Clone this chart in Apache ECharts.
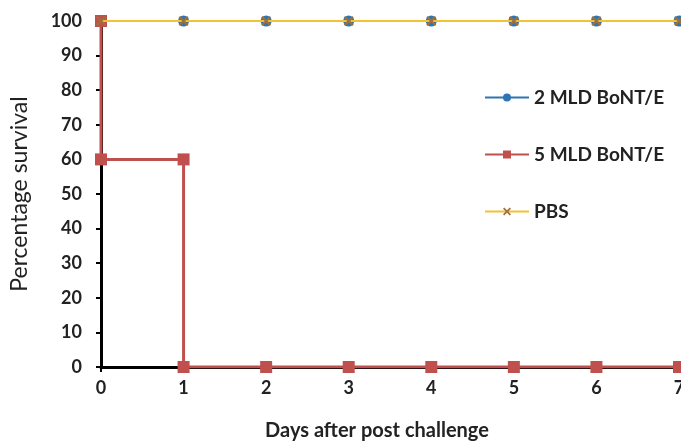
<!DOCTYPE html>
<html><head><meta charset="utf-8">
<script src="https://cdn.jsdelivr.net/npm/echarts@6/dist/echarts.min.js"></script>
<style>html,body{margin:0;padding:0;background:#fff}#c{width:681px;height:443px}</style>
</head><body><div id="c"></div>
<script>
var days = [0, 1, 2, 3, 4, 5, 6, 7];
var survival2MLD = [100, 100, 100, 100, 100, 100, 100, 100];
var survivalPBS = [100, 100, 100, 100, 100, 100, 100, 100];
var days5MLD = [0, 0, 1, 1, 2, 3, 4, 5, 6, 7];
var survival5MLD = [100, 60, 60, 0, 0, 0, 0, 0, 0, 0];
var seriesNames = ['2 MLD BoNT/E', '5 MLD BoNT/E', 'PBS'];

function pairs(xs, ys) { return xs.map(function (x, i) { return [x, ys[i]]; }); }

var font = 'Lato';
var chart = echarts.init(document.getElementById('c'));
var xSym = 'path://M0,1.5L1.5,0L5,3.5L8.5,0L10,1.5L6.5,5L10,8.5L8.5,10L5,6.5L1.5,10L0,8.5L3.5,5Z';
chart.setOption({
  animation: false,
  grid: { left: 101, right: 2, top: 21, bottom: 76, outerBoundsMode: 'none', containLabel: false },
  legend: {
    orient: 'vertical', left: 479, top: 83, itemGap: 38, itemWidth: 44, itemHeight: 10,
    data: seriesNames,
    textStyle: { fontFamily: font, fontWeight: 'bold', fontSize: 19, color: '#222' }
  },
  xAxis: {
    type: 'value', min: 0, max: 7, interval: 1,
    name: 'Days after post challenge', nameLocation: 'middle', nameGap: 54,
    nameTextStyle: { fontFamily: font, fontWeight: 'bold', fontSize: 20, color: '#222', padding: [0, 26, 0, 0] },
    axisLine: { lineStyle: { color: '#000', width: 3 } },
    axisTick: { show: true, length: 5, lineStyle: { color: '#000', width: 2 } },
    axisLabel: { fontFamily: font, fontWeight: 'bold', fontSize: 18, color: '#222', margin: 12 },
    splitLine: { show: false }
  },
  yAxis: {
    type: 'value', min: 0, max: 100, interval: 10,
    name: 'Percentage survival', nameLocation: 'middle', nameGap: 70,
    nameTextStyle: { fontFamily: font, fontWeight: 'normal', fontSize: 23, color: '#222' },
    axisLine: { show: true, lineStyle: { color: '#000', width: 3 } },
    axisTick: { show: true, length: 5, lineStyle: { color: '#000', width: 2 } },
    axisLabel: { fontFamily: font, fontWeight: 'bold', fontSize: 18, color: '#222', margin: 19 },
    splitLine: { show: false }
  },
  series: [
    {
      name: seriesNames[0], type: 'line', data: pairs(days, survival2MLD),
      symbol: 'circle', symbolSize: 11, z: 2,
      lineStyle: { color: '#2E75B6', width: 2 }, itemStyle: { color: '#2E75B6' }
    },
    {
      name: seriesNames[1], type: 'line', data: pairs(days5MLD, survival5MLD),
      symbol: 'rect', symbolSize: 12, z: 3,
      lineStyle: { color: '#C0504D', width: 3 }, itemStyle: { color: '#C0504D' }
    },
    {
      name: seriesNames[2], type: 'line', data: pairs(days, survivalPBS),
      symbol: xSym, symbolSize: 10, z: 4,
      lineStyle: { color: '#F2C230', width: 2 }, itemStyle: { color: '#A0703A' }
    }
  ]
});
</script></body></html>
